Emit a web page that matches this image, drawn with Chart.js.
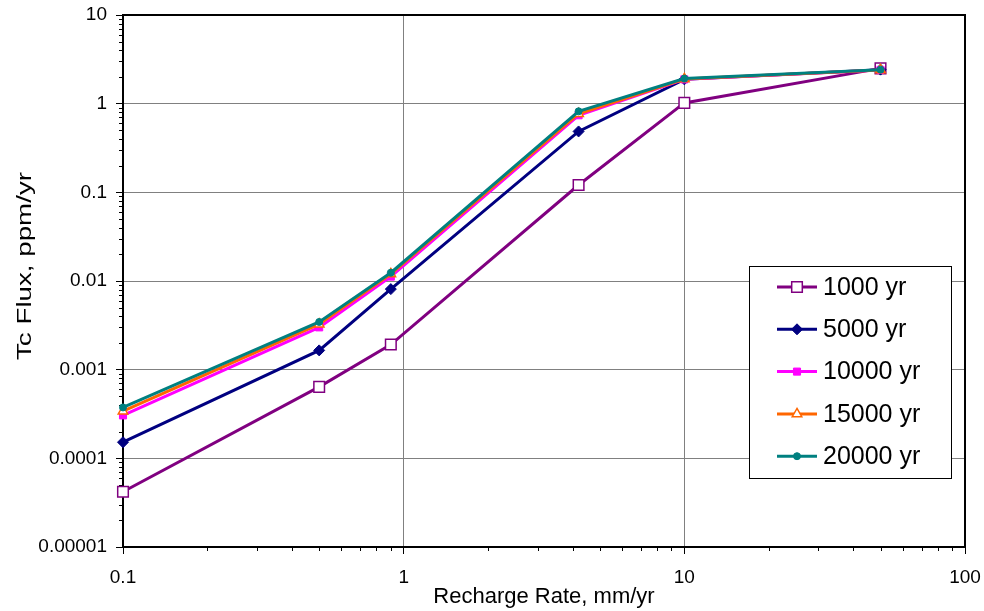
<!DOCTYPE html>
<html>
<head>
<meta charset="utf-8">
<script src="https://cdn.jsdelivr.net/npm/chart.js@4/dist/chart.umd.min.js"></script>
<style>
  html, body { margin: 0; padding: 0; background: #ffffff; }
  #wrap { width: 984px; height: 611px; position: relative; }
</style>
</head>
<body>
<div id="wrap"><canvas id="c" width="984" height="611"></canvas></div>
<script>
// ---- data ----
const recharge = [0.1, 0.5, 0.9, 4.2, 10, 50];
const seriesNames = ['1000 yr', '5000 yr', '10000 yr', '15000 yr', '20000 yr'];
const flux1000  = [4.2e-5, 6.4e-4, 1.92e-3, 0.121, 1.02, 2.5];
const flux5000  = [1.52e-4, 1.65e-3, 8.1e-3, 0.486, 1.88, 2.42];
const flux10000 = [3.05e-4, 3.0e-3, 0.0112, 0.74, 1.88, 2.4];
const flux15000 = [3.4e-4, 3.26e-3, 0.0120, 0.77, 1.9, 2.4];
const flux20000 = [3.75e-4, 3.45e-3, 0.0124, 0.82, 1.92, 2.42];
const xTickValues = [0.1, 1, 10, 100];
const xTickLabels = ['0.1', '1', '10', '100'];
const yTickValues = [0.00001, 0.0001, 0.001, 0.01, 0.1, 1, 10];
const yTickLabels = ['0.00001', '0.0001', '0.001', '0.01', '0.1', '1', '10'];
const xTitle = 'Recharge Rate, mm/yr';
const yTitle = 'Tc Flux, ppm/yr';

// ---- styles ----
const FONT = "'Liberation Sans', Arial, sans-serif";
const seriesValues = [flux1000, flux5000, flux10000, flux15000, flux20000];
const styles = [
  { color: '#800080', pointStyle: 'rect',     radius: 7.5, fill: '#ffffff', bw: 1.5 },
  { color: '#000080', pointStyle: 'rectRot',  radius: 5.5, fill: '#000080', bw: 1 },
  { color: '#FF00FF', pointStyle: 'rect',     radius: 5,   fill: '#FF00FF', bw: 1 },
  { color: '#FF6600', pointStyle: 'triangle', radius: 5.5, fill: '#ffffff', bw: 1.5 },
  { color: '#008080', pointStyle: 'circle',   radius: 3.5, fill: '#008080', bw: 1 }
];

const datasets = seriesNames.map((name, i) => ({
  label: name,
  data: recharge.map((x, j) => ({ x: x, y: seriesValues[i][j] })),
  borderColor: styles[i].color,
  backgroundColor: styles[i].color,
  borderWidth: 3,
  pointStyle: styles[i].pointStyle,
  pointRadius: styles[i].radius,
  pointBackgroundColor: styles[i].fill,
  pointBorderColor: styles[i].color,
  pointBorderWidth: styles[i].bw,
  tension: 0,
  fill: false,
  clip: false,
  order: seriesNames.length - i
}));

function drawMarker(ctx, st, x, y) {
  ctx.save();
  ctx.fillStyle = st.fill;
  ctx.strokeStyle = st.color;
  ctx.lineWidth = st.bw;
  ctx.beginPath();
  const r = st.radius;
  if (st.pointStyle === 'rect') {
    const s = Math.SQRT1_2 * r;
    ctx.rect(x - s, y - s, 2 * s, 2 * s);
  } else if (st.pointStyle === 'rectRot') {
    ctx.moveTo(x, y - r); ctx.lineTo(x + r, y); ctx.lineTo(x, y + r); ctx.lineTo(x - r, y); ctx.closePath();
  } else if (st.pointStyle === 'triangle') {
    for (let k = 0; k < 3; k++) {
      const a = -Math.PI / 2 + k * 2 * Math.PI / 3;
      const px = x + Math.cos(a) * r, py = y + Math.sin(a) * r;
      if (k === 0) ctx.moveTo(px, py); else ctx.lineTo(px, py);
    }
    ctx.closePath();
  } else {
    ctx.arc(x, y, r, 0, Math.PI * 2);
  }
  ctx.fill();
  ctx.stroke();
  ctx.restore();
}

const decorPlugin = {
  id: 'decor',
  beforeDatasetsDraw(chart) {
    const ctx = chart.ctx;
    const a = chart.chartArea;
    const xs = chart.scales.x, ys = chart.scales.y;
    ctx.save();
    // minor ticks
    ctx.strokeStyle = '#000000';
    ctx.lineWidth = 1;
    ctx.beginPath();
    for (let d = 0; d < xTickValues.length - 1; d++) {
      for (let m = 2; m <= 9; m++) {
        const px = Math.round(xs.getPixelForValue(xTickValues[d] * m)) + 0.5;
        ctx.moveTo(px, a.bottom); ctx.lineTo(px, a.bottom + 4);
      }
    }
    for (let d = 0; d < yTickValues.length - 1; d++) {
      for (let m = 2; m <= 9; m++) {
        const py = Math.round(ys.getPixelForValue(yTickValues[d] * m)) + 0.5;
        ctx.moveTo(a.left - 4, py); ctx.lineTo(a.left, py);
      }
    }
    ctx.stroke();
    // frame
    ctx.lineWidth = 2;
    ctx.strokeRect(a.left, a.top, a.right - a.left, a.bottom - a.top);
    ctx.restore();
  },
  afterDraw(chart) {
    const ctx = chart.ctx;
    const a = chart.chartArea;
    ctx.save();
    // y title (stretched along its length like the original)
    ctx.font = '21px ' + FONT;
    ctx.fillStyle = '#000000';
    ctx.textAlign = 'center';
    ctx.textBaseline = 'middle';
    const w = ctx.measureText(yTitle).width;
    ctx.translate(25, 266);
    ctx.rotate(-Math.PI / 2);
    ctx.scale(188 / w, 1);
    ctx.fillText(yTitle, 0, 0);
    ctx.restore();

    // legend
    ctx.save();
    const bx = a.right - 216, by = a.top + 251, bw = 202, bh = 212;
    ctx.fillStyle = '#ffffff';
    ctx.fillRect(bx, by, bw, bh);
    ctx.strokeStyle = '#000000';
    ctx.lineWidth = 1;
    ctx.strokeRect(bx + 0.5, by + 0.5, bw, bh);
    ctx.font = '25px ' + FONT;
    ctx.textAlign = 'left';
    ctx.textBaseline = 'middle';
    seriesNames.forEach((name, i) => {
      const y = by + 21 + i * 42.3;
      ctx.strokeStyle = styles[i].color;
      ctx.lineWidth = 3;
      ctx.beginPath();
      ctx.moveTo(bx + 28, y); ctx.lineTo(bx + 68, y);
      ctx.stroke();
      drawMarker(ctx, styles[i], bx + 48, y);
      ctx.fillStyle = '#000000';
      ctx.fillText(name, bx + 74, y + 1);
    });
    ctx.restore();
  }
};

new Chart(document.getElementById('c'), {
  type: 'line',
  data: { datasets: datasets },
  options: {
    responsive: false,
    animation: false,
    devicePixelRatio: 1,
    layout: { padding: { top: 15, right: 19, left: 0, bottom: 0 } },
    plugins: { legend: { display: false }, tooltip: { enabled: false } },
    scales: {
      x: {
        type: 'logarithmic',
        min: 0.1, max: 100,
        afterBuildTicks: s => { s.ticks = xTickValues.map(v => ({ value: v })); },
        afterFit: s => { s.height = 64; s.paddingLeft = 0; s.paddingRight = 0; },
        ticks: {
          callback: (v, i) => xTickLabels[i],
          font: { family: FONT, size: 19 },
          color: '#000000',
          padding: 12,
          maxRotation: 0,
          autoSkip: false
        },
        grid: { color: '#808080', lineWidth: 1, tickLength: 7, tickColor: '#000000' },
        border: { display: false },
        title: {
          display: true, text: xTitle, color: '#000000',
          font: { family: FONT, size: 22 },
          padding: { top: 0, bottom: 1 }
        }
      },
      y: {
        type: 'logarithmic',
        min: 0.00001, max: 10,
        afterBuildTicks: s => { s.ticks = yTickValues.map(v => ({ value: v })); },
        afterFit: s => { s.width = 123; s.paddingTop = 0; s.paddingBottom = 0; },
        ticks: {
          callback: (v, i) => yTickLabels[i],
          font: { family: FONT, size: 19 },
          color: '#000000',
          padding: 9,
          autoSkip: false
        },
        grid: { color: '#808080', lineWidth: 1, tickLength: 7, tickColor: '#000000' },
        border: { display: false },
        title: { display: false }
      }
    }
  },
  plugins: [decorPlugin]
});
</script>
</body>
</html>
